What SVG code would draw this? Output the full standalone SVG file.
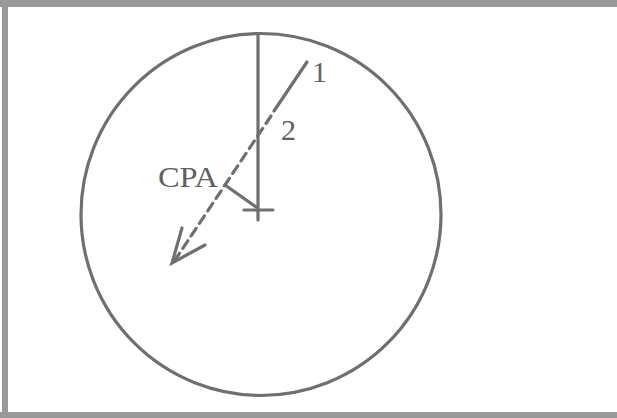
<svg xmlns="http://www.w3.org/2000/svg" width="617" height="418" viewBox="0 0 617 418">
<style>
.ln{stroke:#6f6f6f;stroke-width:3.2;fill:none;stroke-linecap:round}
.t{font-family:"Liberation Serif",serif;font-size:30px;fill:#606060}
</style>
<rect x="0" y="0" width="617" height="418" fill="#fff"/>
<g id="frame">
<rect x="0" y="0" width="617" height="7" fill="#999"/>
<rect x="2" y="0" width="6" height="418" fill="#999"/>
<rect x="0" y="412" width="617" height="6" fill="#999"/>
</g>
<g id="range-ring"><ellipse class="ln" cx="261" cy="214.5" rx="180" ry="181"/></g>
<g id="own-ship">
<line class="ln" x1="258" y1="34" x2="258" y2="220"/>
<line class="ln" x1="244" y1="210" x2="273" y2="210"/>
</g>
<g id="connectors">
<line class="ln" stroke-width="4.5" x1="307" y1="62" x2="274" y2="111"/>
<line class="ln" x1="271" y1="116" x2="175" y2="260" stroke-dasharray="9 6" stroke-linecap="butt"/>
<polyline class="ln" points="182,228 172,263 205,245" stroke-width="4"/>
<line class="ln" x1="225" y1="185" x2="256" y2="207"/>
</g>
<g id="labels">
<text class="t" x="312" y="82">1</text>
<text class="t" x="281" y="140">2</text>
<text class="t" x="158" y="187" textLength="60" lengthAdjust="spacingAndGlyphs">CPA</text>
</g>
</svg>
